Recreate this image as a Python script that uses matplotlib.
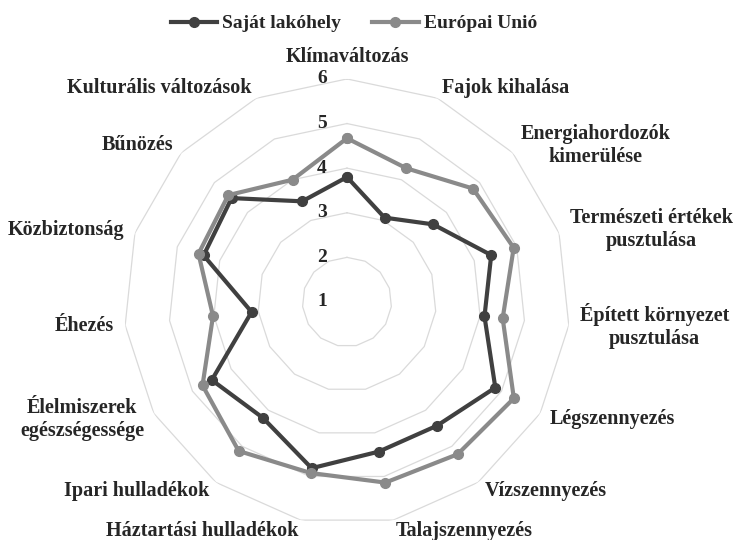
import numpy as np
import matplotlib
matplotlib.use("Agg")
import matplotlib.pyplot as plt

categories = ["Klímaváltozás", "Fajok kihalása", "Energiahordozók\nkimerülése",
              "Természeti értékek\npusztulása", "Épített környezet\npusztulása",
              "Légszennyezés", "Vízszennyezés", "Talajszennyezés",
              "Háztartási hulladékok", "Ipari hulladékok",
              "Élelmiszerek\negészségessége", "Éhezés", "Közbiztonság",
              "Bűnözés", "Kulturális változások"]
sajat = [3.8, 3.07, 3.6, 4.4, 4.1, 4.84, 4.43, 4.43, 4.81, 4.21, 4.5, 3.15, 4.38, 4.48, 3.47]
eu = [4.67, 4.28, 4.8, 4.93, 4.51, 5.32, 5.22, 5.14, 4.92, 5.13, 4.74, 4.02, 4.5, 4.58, 4.0]
series_names = ["Saját lakóhely", "Európai Unió"]
ticks = [1, 2, 3, 4, 5, 6]

plt.rcParams['font.family'] = ['Liberation Serif', 'DejaVu Serif']
plt.rcParams['font.weight'] = 'bold'

fig = plt.figure(figsize=(7.37, 5.4), dpi=100)
ax = fig.add_axes([0.1682, 0.0278, 0.6052, 0.826], projection='polar')
ax.set_theta_zero_location('N')
ax.set_theta_direction(-1)
ax.set_ylim(1, 6)
ax.grid(False)
ax.spines['polar'].set_visible(False)
ax.set_xticks([])
ax.set_yticks([])
ax.patch.set_alpha(0)

n = len(categories)
angles = np.linspace(0, 2 * np.pi, n, endpoint=False)
closed = np.append(angles, angles[0])

# polygon gridlines
for v in ticks[1:]:
    ax.plot(closed, [v] * (n + 1), color='#dadada', lw=0.9, zorder=1)

def close(vals):
    return list(vals) + [vals[0]]

ax.plot(closed, close(sajat), color='#404040', lw=3, marker='o', ms=7,
        label=series_names[0], zorder=3, clip_on=False)
ax.plot(closed, close(eu), color='#8a8a8a', lw=3, marker='o', ms=7,
        label=series_names[1], zorder=4, clip_on=False)

# tick labels
for v in ticks:
    ax.annotate(str(v), xy=(0, v), xytext=(-18, 0), textcoords='offset points',
                ha='center', va='center', fontsize=14, fontweight='bold', color='#262626')

# category labels
for a, lab in zip(angles, categories):
    s = np.sin(a)
    if abs(s) < 0.1:
        ha = 'center'
    elif s > 0:
        ha = 'left'
    else:
        ha = 'right'
    r = 6.25
    if np.cos(a) > 0.99:
        r = 6.5
    ax.text(a, r, lab, ha=ha, va='center', fontsize=14.5, fontweight='bold',
            color='#262626', multialignment='center')

fig.legend(loc='upper center', bbox_to_anchor=(0.48, 1.005), ncol=2, frameon=False,
           prop={'size': 14, 'weight': 'bold'}, handlelength=2.4, columnspacing=1.6,
           handletextpad=0.25, labelcolor='#262626')

fig.savefig('out.png', dpi=100)
